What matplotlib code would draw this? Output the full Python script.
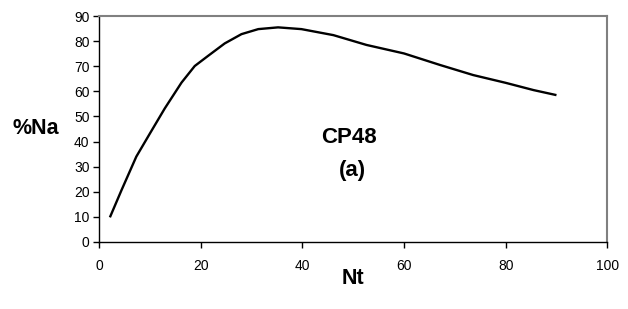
import matplotlib
matplotlib.use("Agg")
import matplotlib.pyplot as plt

nt = [2.1, 4.4, 7.3, 10.0, 12.9, 16.2, 18.8, 21.4, 24.7, 28.0, 31.3, 35.2, 39.8,
      46.1, 52.6, 60.0, 67.1, 73.6, 80.0, 85.5, 90.0]
na = [9.8, 20.7, 34.0, 43.3, 53.2, 63.5, 70.1, 74.1, 79.1, 82.8, 84.8, 85.5, 84.8,
      82.4, 78.5, 75.1, 70.5, 66.5, 63.4, 60.5, 58.5]

plt.rcParams['font.family'] = ['Liberation Sans', 'DejaVu Sans']

fig = plt.figure(figsize=(6.28, 3.09), dpi=100)
ax = fig.add_axes([0.158, 0.217, 0.809, 0.731])
ax.plot(nt, na, color='black', lw=1.7, solid_capstyle='butt', solid_joinstyle='round')
ax.set_xlim(0, 100)
ax.set_ylim(0, 90)
ax.set_xticks(range(0, 101, 20))
ax.set_yticks(range(0, 91, 10))
ax.tick_params(direction='out', length=4, width=1, labelsize=10, pad=3, colors='black')
ax.tick_params(axis='x', pad=8)
for s in ['top', 'right']:
    ax.spines[s].set_color('#808080')
    ax.spines[s].set_linewidth(1.5)
for s in ['left', 'bottom']:
    ax.spines[s].set_color('black')
    ax.spines[s].set_linewidth(1)

fig.text(36/628, 1-128/309, '%Na', fontsize=15.5, fontweight='bold', ha='center', va='center')
fig.text(353/628, 1-278/309, 'Nt', fontsize=15.5, fontweight='bold', ha='center', va='center')
ax.text(49.2, 41.7, 'CP48', fontsize=16, fontweight='bold', ha='center', va='center')
ax.text(49.9, 28.6, '(a)', fontsize=16, fontweight='bold', ha='center', va='center')

fig.savefig('out.png', dpi=100)
